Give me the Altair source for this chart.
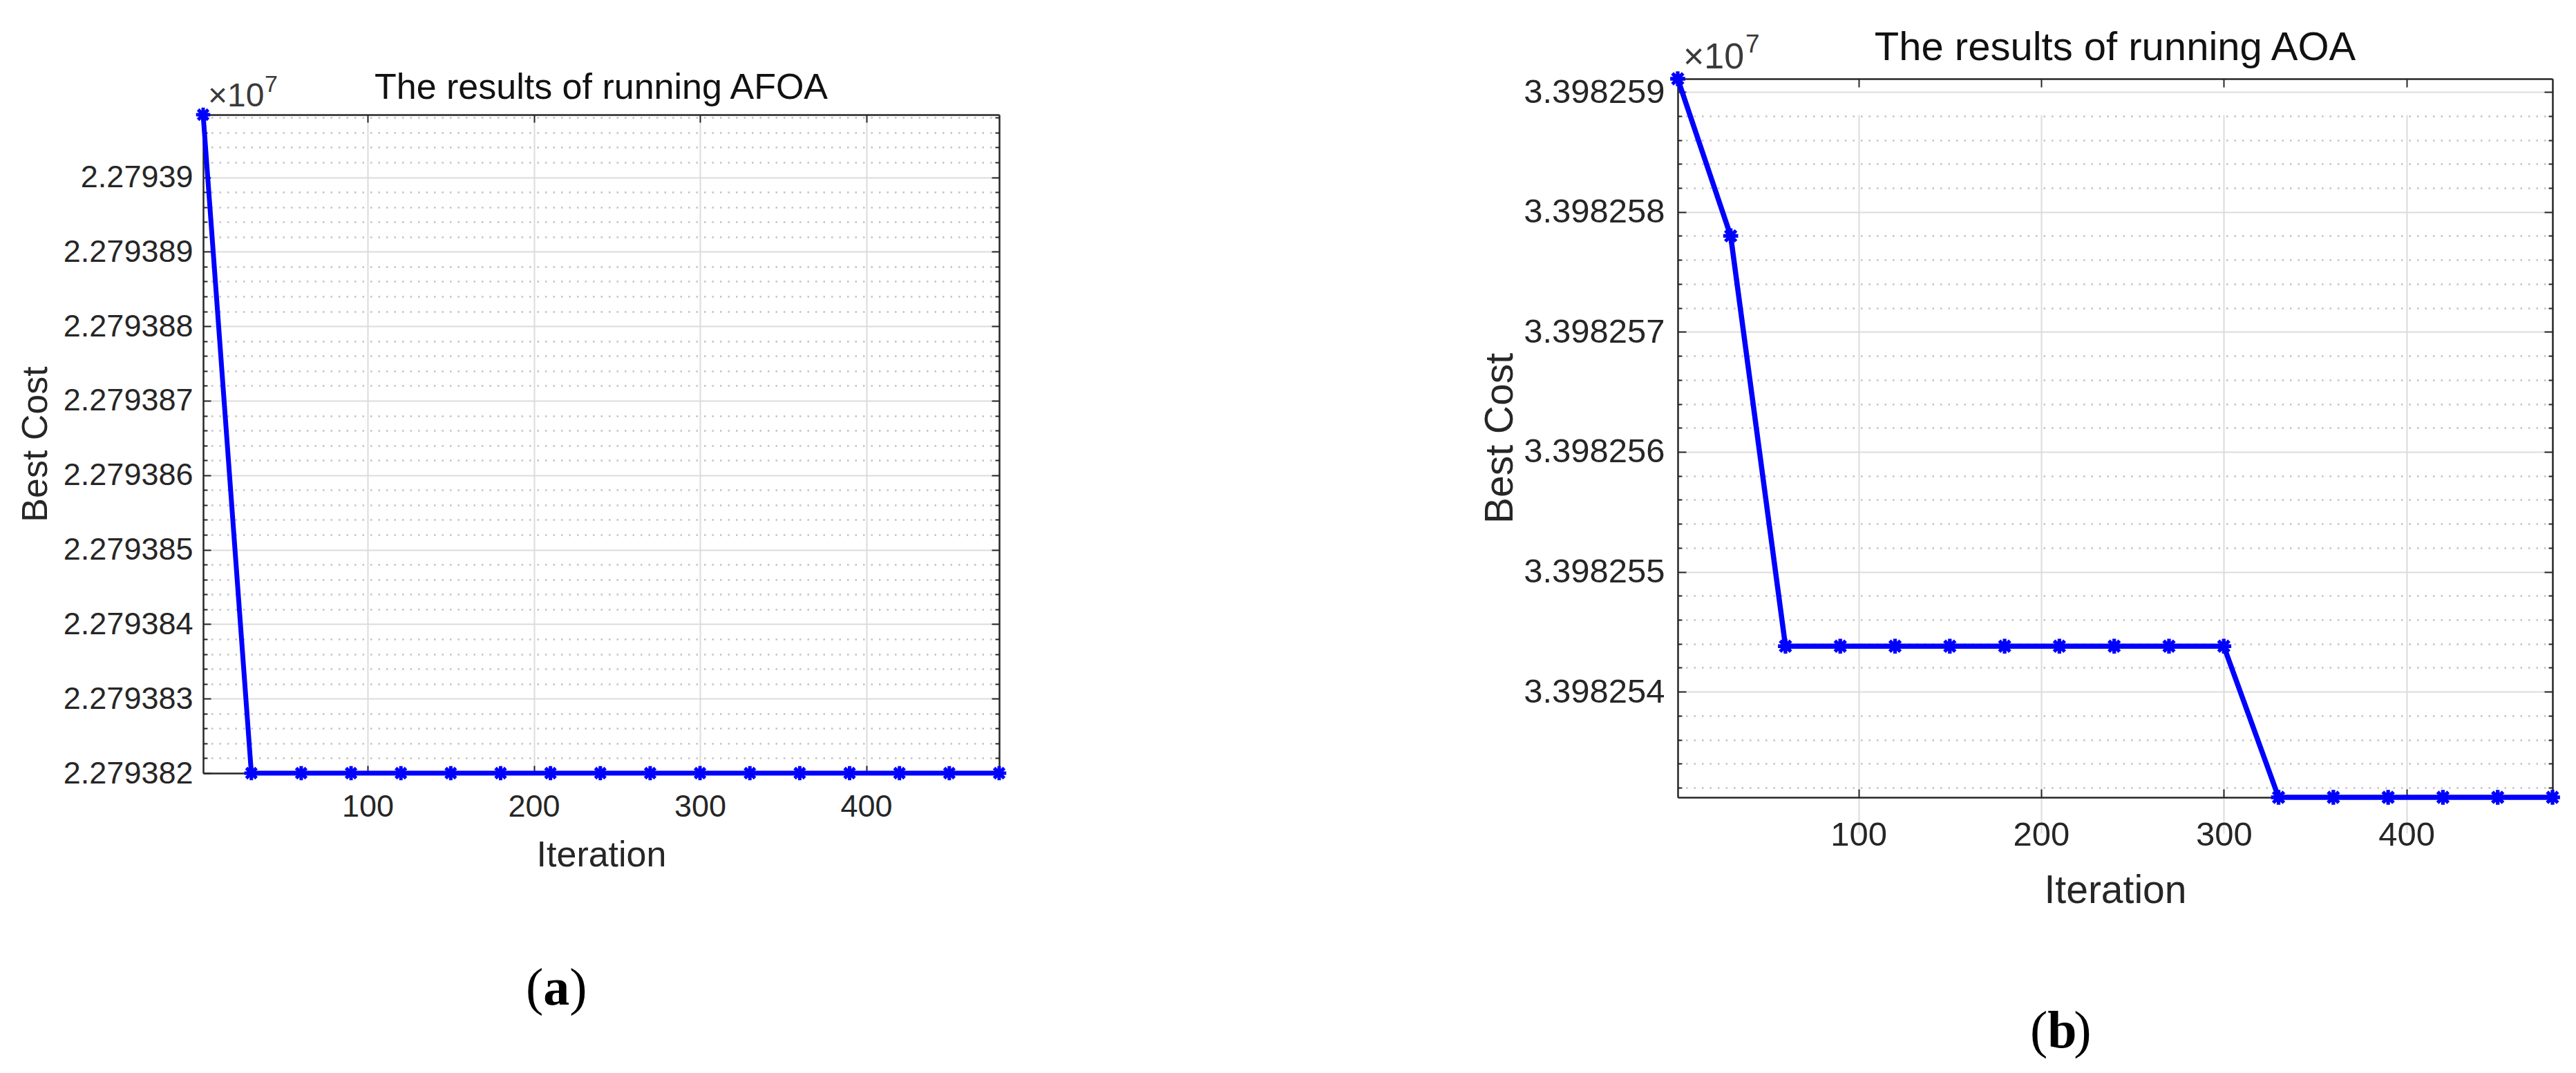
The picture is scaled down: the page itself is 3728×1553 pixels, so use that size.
import altair as alt
import pandas as pd

# ---------------- data ----------------
iterations = [1, 30, 60, 90, 120, 150, 180, 210, 240, 270, 300, 330, 360, 390, 420, 450, 480]
afoa_best_cost = [22793908.4, 22793820.0, 22793820.0, 22793820.0, 22793820.0, 22793820.0,
                  22793820.0, 22793820.0, 22793820.0, 22793820.0, 22793820.0, 22793820.0,
                  22793820.0, 22793820.0, 22793820.0, 22793820.0, 22793820.0]
aoa_best_cost = [33982591.1, 33982578.0,
                 33982543.8, 33982543.8, 33982543.8, 33982543.8, 33982543.8,
                 33982543.8, 33982543.8, 33982543.8, 33982543.8,
                 33982531.2, 33982531.2, 33982531.2, 33982531.2, 33982531.2, 33982531.2]

titles = ["The results of running AFOA", "The results of running AOA"]
panel_letters = ["a", "b"]
x_title = "Iteration"
y_title = "Best Cost"
exponent_base = "\u00d710"
exponent_power = "7"

x_ticks = [100, 200, 300, 400]
afoa_y_ticks = [22793820, 22793830, 22793840, 22793850, 22793860,
                22793870, 22793880, 22793890, 22793900]
aoa_y_ticks = [33982540, 33982550, 33982560, 33982570, 33982580, 33982590]
afoa_y_minor = [v for v in range(22793822, 22793910, 2) if v % 10]
aoa_y_minor = [v for v in range(33982532, 33982592, 2) if v % 10]

# ---------------- style ----------------
BLUE = "#0000ff"
AX = "#262626"
GRID = "#dcdcdc"
MINOR = "#c2c2c2"
FONT = "Liberation Sans"
SERIF = "Liberation Serif"
ASTERISK = "M-1,0L1,0M0,-1L0,1M-0.72,-0.72L0.72,0.72M-0.72,0.72L0.72,-0.72"


def text_layer(text, x, y, size, color=AX, font=FONT, weight="normal", align="left"):
    return alt.Chart(pd.DataFrame({"t": [text]})).mark_text(
        font=font, fontSize=size, fontWeight=weight, color=color,
        align=align, baseline="alphabetic"
    ).encode(text="t:N", x=alt.value(x), y=alt.value(y))


def tick_axis(orient, values, offset, size):
    # ticks only (drawn inward by pulling the axis inside the box)
    return alt.Axis(orient=orient, values=values, offset=offset, tickSize=size, tickColor=AX,
                    tickWidth=2, labels=False, domain=False, grid=False, title=None)


def domain_axis(orient, values, offset):
    # box edge only
    return alt.Axis(orient=orient, values=values, offset=offset, ticks=False, tickSize=0,
                    labels=False, domain=True, domainColor=AX, domainWidth=2.5,
                    grid=False, title=None)


def panel(costs, y_major, y_minor, title, letter, g):
    df = pd.DataFrame({"iteration": iterations, "cost": costs})
    sh = g["shift"]          # how far the plot box reaches above the row origin
    h = g["h"] - sh          # view height below the origin
    xs = alt.Scale(domain=[min(iterations), max(iterations)], nice=False, zero=False)
    ys = alt.Scale(domain=[min(costs), max(costs)], nice=False, zero=False, range=[h, -sh])
    tk, tm = g["tk"], g["tm"]

    main_x = alt.Axis(orient="bottom", values=x_ticks, format="d", offset=0, ticks=False,
                      tickSize=0, domain=True, domainColor=AX, domainWidth=2.5, grid=True,
                      gridColor=GRID, gridWidth=2, labelFont=FONT, labelFontSize=g["lab"],
                      labelColor=AX, labelPadding=g["lpx"], labelFlush=False,
                      title=x_title, titleFont=FONT, titleFontSize=g["atl"],
                      titleFontWeight="normal", titleColor=AX, titlePadding=g["tpx"])
    main_y = alt.Axis(orient="left", values=y_major,
                      labelExpr="format(datum.value / 1e7, '.7~g')",
                      offset=0, ticks=False, tickSize=0, domain=True, domainColor=AX,
                      domainWidth=2.5, grid=True, gridColor=GRID, gridWidth=2,
                      labelFont=FONT, labelFontSize=g["lab"], labelColor=AX,
                      labelPadding=g["lpy"], labelLimit=600,
                      title=y_title, titleFont=FONT, titleFontSize=g["atl"],
                      titleFontWeight="normal", titleColor=AX, titlePadding=g["tpy"])
    minor_y = alt.Axis(orient="left", values=y_minor, offset=-tm, tickSize=tm, tickColor=AX,
                       tickWidth=2, labels=False, domain=False, grid=True, gridColor=MINOR,
                       gridDash=[2.5, 9], gridWidth=2.5, title=None)

    base = alt.Chart(df)
    X = "iteration:Q"
    Y = "cost:Q"
    line = base.mark_line(color=BLUE, strokeWidth=g["lw"]).encode(
        x=alt.X(X, scale=xs, axis=main_x), y=alt.Y(Y, scale=ys, axis=main_y))
    pts = base.mark_point(shape=ASTERISK, size=g["ms"], filled=False, color=BLUE,
                          strokeWidth=g["msw"], opacity=1).encode(
        x=alt.X(X, scale=xs, axis=domain_axis("top", x_ticks, sh)),
        y=alt.Y(Y, scale=ys, axis=minor_y))
    g3 = base.mark_line(opacity=0).encode(
        x=alt.X(X, scale=xs, axis=tick_axis("bottom", x_ticks, -tk, tk)),
        y=alt.Y(Y, scale=ys, axis=tick_axis("left", y_major, -tk, tk)))
    g4 = base.mark_line(opacity=0).encode(
        x=alt.X(X, scale=xs, axis=tick_axis("top", x_ticks, sh - tk, tk)),
        y=alt.Y(Y, scale=ys, axis=domain_axis("right", y_major, 0)))
    g5 = base.mark_line(opacity=0).encode(
        x=alt.X(X, scale=xs, axis=None),
        y=alt.Y(Y, scale=ys, axis=tick_axis("right", y_major, -tk, tk)))
    g6 = base.mark_line(opacity=0).encode(
        x=alt.X(X, scale=xs, axis=None),
        y=alt.Y(Y, scale=ys, axis=tick_axis("right", y_minor, -tm, tm)))

    w = g["w"]
    ttl = text_layer(title, w / 2, g["title_y"] - sh, g["ttl"], color="#111111", align="center")
    e1 = text_layer(exponent_base, g["ex_x"], g["ex_y"] - sh, g["ex_s"], color="#3a3a3a")
    e2 = text_layer(exponent_power, g["ep_x"], g["ep_y"] - sh, g["ep_s"], color="#3a3a3a")
    fs = g["pl_s"]
    px, py = g["pl_x"], g["pl_y"] - sh
    p1 = text_layer("(", px, py, fs, color="#000000", font=SERIF)
    p2 = text_layer(letter, px + 0.333 * fs, py, fs, color="#000000", font=SERIF, weight="bold")
    p3 = text_layer(")", px + 0.833 * fs, py, fs, color="#000000", font=SERIF)
    sx1, sx2, sy1, sy2 = g["spacer"]
    spacer = alt.Chart(pd.DataFrame({"s": [0]})).mark_rect(opacity=0).encode(
        x=alt.value(sx1), x2=alt.value(sx2), y=alt.value(sy1), y2=alt.value(sy2))

    return alt.layer(line, pts, g3, g4, g5, g6, ttl, e1, e2, p1, p2, p3, spacer).resolve_axis(
        x="independent", y="independent").properties(width=w, height=h)


left_geo = dict(w=1152, h=953, shift=0, tk=11, tm=6, lab=45, ttl=52, atl=52,
                lpx=26, lpy=15, tpx=22, tpy=16,
                lw=7, ms=420, msw=5, title_y=-23,
                ex_x=7, ex_y=-12, ex_s=48, ep_x=89, ep_y=-33, ep_s=34,
                pl_s=76, pl_x=467, pl_y=1288,
                spacer=(-285, 1607, -157, -150))
right_geo = dict(w=1266, h=1040, shift=52, tk=12, tm=6, lab=49, ttl=58, atl=57,
                 lpx=30, lpy=19, tpx=28, tpy=28,
                 lw=7.5, ms=470, msw=5.3, title_y=-27,
                 ex_x=8, ex_y=-15, ex_s=52, ep_x=98, ep_y=-38, ep_s=37,
                 pl_s=76, pl_x=510, pl_y=1402,
                 spacer=(-525, -520, -157, -150))

left = panel(afoa_best_cost, afoa_y_ticks, afoa_y_minor, titles[0], panel_letters[0], left_geo)
right = panel(aoa_best_cost, aoa_y_ticks, aoa_y_minor, titles[1], panel_letters[1], right_geo)

chart = alt.hconcat(left, right, spacing=0).properties(padding=0).configure_view(
    stroke="transparent")

chart.save("out.html", embed_options={"renderer": "svg", "actions": False})
